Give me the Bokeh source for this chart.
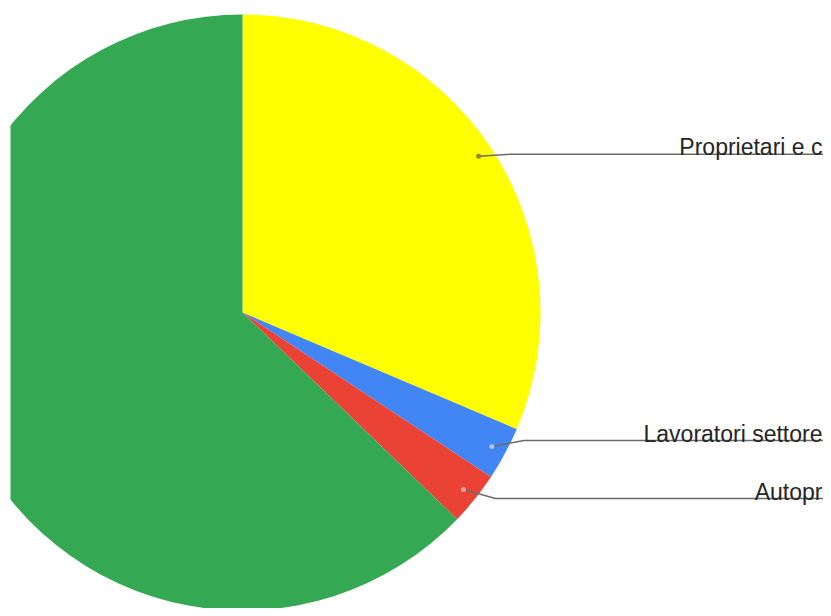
import numpy as np
from bokeh.plotting import figure
from bokeh.models import Range1d, ColumnDataSource
from bokeh.embed import file_html
from bokeh.resources import INLINE
from bokeh.core.properties import value

# ---- data ----
categories = ["Proprietari e c", "Lavoratori settore", "Autopr", ""]
shares = [31.4, 2.9, 2.9, 62.8]
colors = ["#FFFF00", "#4285F4", "#EA4335", "#34A853"]

# ---- layout ----
W, H = 823, 608
LEFT = 10
cx, cy, R = 242, H - 312, 298
label_shift = [2, 6, -9, 0]
dot_colors = ["#8a8a2a", "#a9c4f5", "#f3a08f", None]

total = sum(shares)
cum = np.cumsum([0] + shares) / total
end_ang = np.pi / 2 - cum[:-1] * 2 * np.pi
start_ang = np.pi / 2 - cum[1:] * 2 * np.pi

src = ColumnDataSource(dict(start=start_ang, end=end_ang, color=colors, cat=categories))

p = figure(width=W, height=H, x_range=Range1d(LEFT, W), y_range=Range1d(0, H),
           output_backend="svg", toolbar_location=None,
           min_border_left=LEFT, min_border_right=0, min_border_top=0, min_border_bottom=0)
p.axis.visible = False
p.grid.visible = False
p.outline_line_color = None
p.background_fill_color = "white"
p.border_fill_color = "white"

p.wedge(x=cx, y=cy, radius=R, start_angle="start", end_angle="end",
        fill_color="color", line_color=None, source=src)

for i, cat in enumerate(categories):
    if not cat:
        continue
    mid = (start_ang[i] + end_ang[i]) / 2
    dx = cx + 0.95 * R * np.cos(mid)
    dy = cy + 0.95 * R * np.sin(mid)
    ly = dy + label_shift[i]
    p.line([dx, dx + 32, W + 5], [dy, ly, ly], line_color="#6b6b6b", line_width=1.5)
    p.scatter([dx], [dy], size=5, fill_color=dot_colors[i], line_color=None)
    p.text([W - 1], [ly + 7], text=[cat], text_font=value("Liberation Sans"),
           text_font_size="23px", text_color="#262626", text_baseline="alphabetic",
           text_align="right")

open("out.html", "w").write(file_html(p, INLINE))
